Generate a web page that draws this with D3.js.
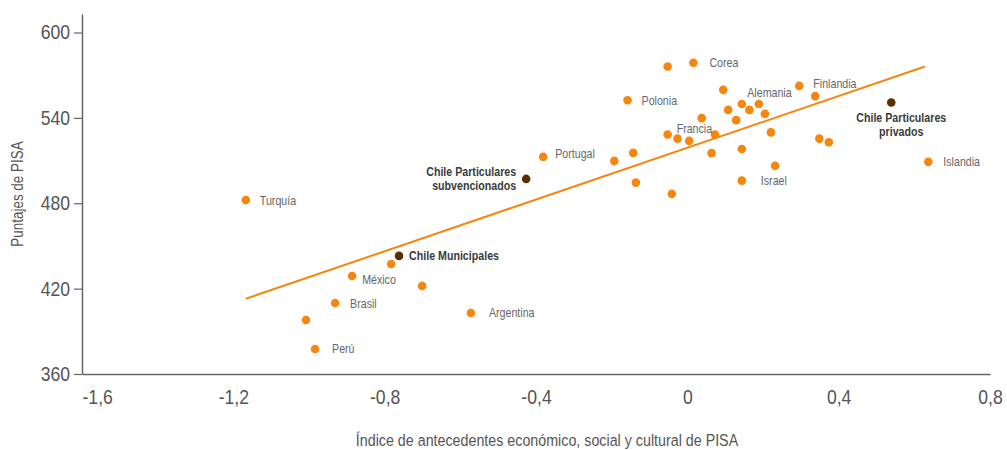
<!DOCTYPE html>
<html>
<head>
<meta charset="utf-8">
<script src="https://cdn.jsdelivr.net/npm/d3@7"></script>
<style>
  body { margin: 0; background: #fff; }
  svg text { font-family: 'Liberation Sans', Arial, sans-serif; }
</style>
</head>
<body>
<svg id="chart" width="1007" height="450"></svg>
<script>
// country points: ESCS index (x) vs PISA score (y)
const countryNames = ['Turquía', '', 'Perú', 'Brasil', 'México', '', '', 'Argentina', 'Portugal', '',
  'Polonia', '', '', '', 'Francia', '', '', 'Corea', '', '',
  '', '', 'Alemania', '', '', '', '', 'Israel', '', '',
  '', '', '', 'Finlandia', '', '', '', 'Islandia'];
const countryX = [-1.167, -1.008, -0.984, -0.931, -0.886, -0.783, -0.701, -0.572, -0.381, -0.193,
  -0.158, -0.143, -0.136, -0.052, -0.052, -0.041, -0.026, 0.016, 0.005, 0.038,
  0.064, 0.073, 0.095, 0.108, 0.129, 0.144, 0.144, 0.144, 0.164, 0.189,
  0.205, 0.221, 0.232, 0.296, 0.338, 0.349, 0.374, 0.637];
const countryY = [482.3, 398.0, 377.6, 409.9, 428.9, 437.3, 421.9, 402.9, 512.6, 509.8,
  552.4, 515.4, 494.5, 576.1, 528.3, 486.6, 525.4, 578.7, 523.8, 539.8,
  515.2, 528.3, 559.7, 545.6, 538.4, 549.8, 518.1, 495.9, 545.6, 549.8,
  542.8, 529.8, 506.3, 562.5, 555.3, 525.4, 522.9, 509.1];

// Chile by school type
const chileNames = [['Chile Municipales'], ['Chile Particulares', 'subvencionados'], ['Chile Particulares', 'privados']];
const chileX = [-0.762, -0.426, 0.539];
const chileY = [443.0, 497.1, 550.8];

// trend line end points
const trendX = [-1.167, 0.628];
const trendY = [412.9, 576.1];

const xTicks = [-1.6, -1.2, -0.8, -0.4, 0, 0.4, 0.8];
const yTicks = [360, 420, 480, 540, 600];

const width = 1007, height = 450;
const margins = { left: 82, right: 17, top: 14, bottom: 76 };

// label offsets (layout only)
const labelPos = {
  'Turquía': [14, 0], 'Perú': [17, 0], 'Brasil': [15, 0], 'México': [10, 4],
  'Argentina': [18, 0], 'Portugal': [12, -3], 'Polonia': [14, 0], 'Corea': [16, 0],
  'Francia': [9, -6], 'Alemania': [24, 3], 'Finlandia': [14, -2], 'Israel': [19, 0],
  'Islandia': [15, 0]
};

const locale = d3.formatLocale({ decimal: ',', thousands: '.', grouping: [3], currency: ['', ''], minus: '-' });
const fmt = locale.format('~g');

const orange = '#f7860f', dark = '#5c2e05', axisColour = '#666';

// squeeze text horizontally around its own x (fake condensed face)
function narrow(sel, by) {
  sel.attr('transform', function () {
    const x = +this.getAttribute('x') || 0;
    return 'translate(' + x + ',0) scale(' + by + ',1) translate(' + (-x) + ',0)';
  });
}

const vis = d3.select('#chart'),
  xScale = d3.scaleLinear().domain([-1.6, 0.8]).range([margins.left, width - margins.right]),
  yScale = d3.scaleLinear().domain([360, 613]).range([height - margins.bottom, margins.top]);

// x axis
const gx = vis.append('g')
  .attr('transform', 'translate(0,' + (height - margins.bottom) + ')')
  .call(d3.axisBottom(xScale).tickValues(xTicks).tickFormat(fmt).tickSize(0).tickPadding(16));
gx.select('.domain').attr('stroke', axisColour).attr('stroke-width', 1.5);
gx.selectAll('.tick text')
  .attr('font-size', 20).attr('fill', '#555')
  .style('font-family', "'Liberation Sans', Arial, sans-serif")
  .attr('text-anchor', d => (d === -1.6 ? 'start' : 'middle'))
  .call(narrow, 0.88);

// y axis
const gy = vis.append('g')
  .attr('transform', 'translate(' + margins.left + ',0)')
  .call(d3.axisLeft(yScale).tickValues(yTicks).tickSize(8).tickSizeOuter(0).tickPadding(4));
gy.select('.domain').attr('stroke', axisColour).attr('stroke-width', 1.5);
gy.selectAll('.tick line').attr('stroke', axisColour).attr('stroke-width', 1.2);
gy.selectAll('.tick text')
  .attr('font-size', 20).attr('fill', '#555')
  .style('font-family', "'Liberation Sans', Arial, sans-serif")
  .call(narrow, 0.88);

// axis titles
vis.append('text')
  .attr('x', (margins.left + width - margins.right) / 2 + 11)
  .attr('y', 446)
  .attr('text-anchor', 'middle')
  .attr('font-size', 17)
  .attr('fill', '#555')
  .text('Índice de antecedentes económico, social y cultural de PISA')
  .call(narrow, 0.84);

vis.append('text')
  .attr('transform', 'translate(23,194) rotate(-90) scale(0.84,1)')
  .attr('text-anchor', 'middle')
  .attr('font-size', 16)
  .attr('fill', '#555')
  .text('Puntajes de PISA');

// trend line
const lineGen = d3.line().x(d => xScale(d[0])).y(d => yScale(d[1]));
vis.append('path')
  .attr('d', lineGen(d3.zip(trendX, trendY)))
  .attr('stroke', orange)
  .attr('stroke-width', 2)
  .attr('fill', 'none');

// country points
const countries = countryX.map((x, i) => ({ name: countryNames[i], x: x, y: countryY[i] }));
vis.append('g').selectAll('circle')
  .data(countries)
  .join('circle')
  .attr('cx', d => xScale(d.x))
  .attr('cy', d => yScale(d.y))
  .attr('r', 4.3)
  .attr('fill', orange);

vis.append('g').selectAll('text')
  .data(countries.filter(d => d.name))
  .join('text')
  .attr('x', d => xScale(d.x) + labelPos[d.name][0])
  .attr('y', d => yScale(d.y) + labelPos[d.name][1])
  .attr('dy', '0.35em')
  .attr('font-size', 13)
  .attr('fill', '#666')
  .text(d => d.name)
  .call(narrow, 0.82);

// Chile points
const chile = chileX.map((x, i) => ({ lines: chileNames[i], x: x, y: chileY[i] }));
vis.append('g').selectAll('circle')
  .data(chile)
  .join('circle')
  .attr('cx', d => xScale(d.x))
  .attr('cy', d => yScale(d.y))
  .attr('r', 4.3)
  .attr('fill', dark);

// Chile labels: right, left, below
const chileLayout = [
  { dx: 10, dy: 0, anchor: 'start' },
  { dx: -10, dy: -7, anchor: 'end' },
  { dx: 10, dy: 15, anchor: 'middle' }
];
chile.forEach((d, i) => {
  const l = chileLayout[i];
  const t = vis.append('text')
    .attr('x', xScale(d.x) + l.dx)
    .attr('y', yScale(d.y) + l.dy)
    .attr('text-anchor', l.anchor)
    .attr('font-size', 13)
    .attr('font-weight', 'bold')
    .attr('fill', '#3a3a3a');
  d.lines.forEach((s, j) => {
    t.append('tspan')
      .attr('x', xScale(d.x) + l.dx)
      .attr('dy', j === 0 ? '0.35em' : 14)
      .text(s);
  });
  t.call(narrow, 0.82);
});
</script>
</body>
</html>
